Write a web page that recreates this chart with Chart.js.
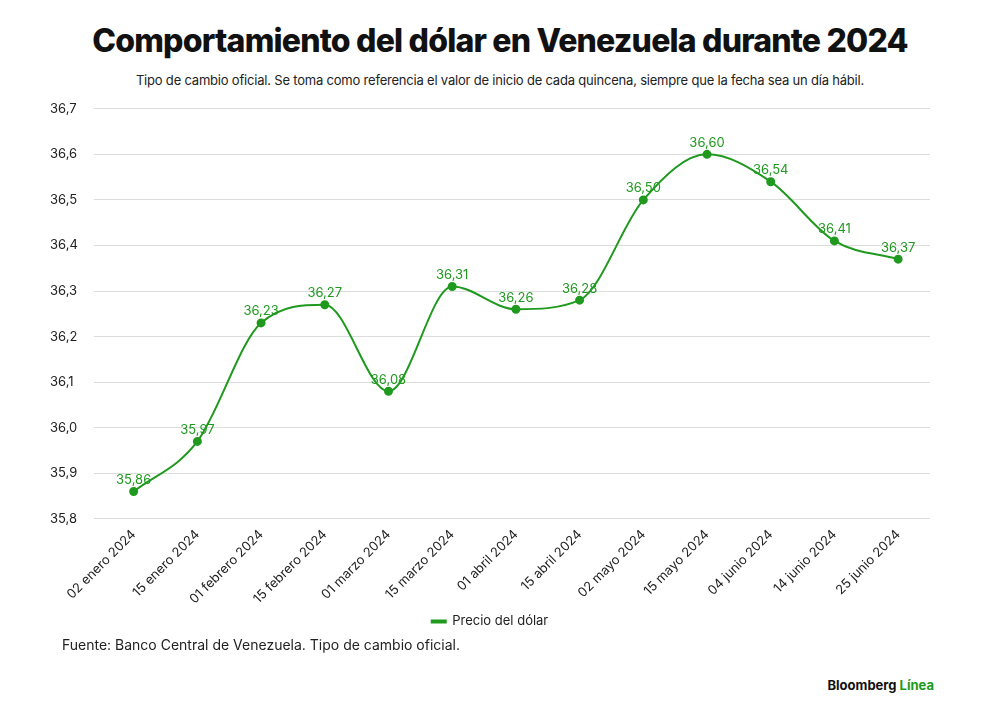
<!DOCTYPE html>
<html><head><meta charset="utf-8">
<script src="https://cdn.jsdelivr.net/npm/chart.js@4"></script>
<style>
body{margin:0;background:#fff;font-family:Inter,"Noto Sans",sans-serif;}
#wrap{position:relative;width:1000px;height:712px;}
h1{position:absolute;top:21px;left:0;width:1000px;text-align:center;margin:0;font-size:32px;font-weight:800;letter-spacing:-0.8px;color:#111;}
.sub{position:absolute;top:72px;left:0;width:1000px;text-align:center;font-size:13px;letter-spacing:-0.2px;color:#222;}
.src{position:absolute;top:636px;left:62px;font-size:14px;color:#222;}
.brand{position:absolute;top:677px;right:66px;font-size:13px;font-weight:700;color:#111;}
.brand span{color:#1a9a1a;}
#c{position:absolute;top:93px;left:50px;}
</style></head><body>
<div id="wrap">
<h1>Comportamiento del dólar en Venezuela durante 2024</h1>
<div class="sub">Tipo de cambio oficial. Se toma como referencia el valor de inicio de cada quincena, siempre que la fecha sea un día hábil.</div>
<canvas id="c" width="900" height="545" style="width:900px;height:545px"></canvas>
<div class="src">Fuente: Banco Central de Venezuela. Tipo de cambio oficial.</div>
<div class="brand">Bloomberg <span>Línea</span></div>
</div>
<script>
const categories=["02 enero 2024","15 enero 2024","01 febrero 2024","15 febrero 2024","01 marzo 2024","15 marzo 2024","01 abril 2024","15 abril 2024","02 mayo 2024","15 mayo 2024","04 junio 2024","14 junio 2024","25 junio 2024"];
const values=[35.86,35.97,36.23,36.27,36.08,36.31,36.26,36.28,36.50,36.60,36.54,36.41,36.37];
const green="#1f9a1f";
const labelPlugin={id:"lbl",afterDatasetsDraw(ch){const ctx=ch.ctx;const m=ch.getDatasetMeta(0);ctx.save();ctx.fillStyle=green;ctx.font="13px Inter, 'Noto Sans', sans-serif";ctx.textAlign="center";ctx.textBaseline="bottom";
m.data.forEach((p,i)=>{ctx.fillText(values[i].toFixed(2).replace(".",","),p.x,p.y-5);});ctx.restore();}};
new Chart(document.getElementById("c"),{type:"line",
data:{labels:categories,datasets:[{label:"Precio del dólar",data:values,borderColor:green,backgroundColor:green,borderWidth:2,pointRadius:3.5,pointHoverRadius:3.5,cubicInterpolationMode:"monotone"}]},
options:{responsive:false,animation:false,layout:{padding:{left:0,right:20,top:0,bottom:0}},
plugins:{legend:{position:"bottom",labels:{boxWidth:14,boxHeight:2,color:"#222",font:{size:13,family:"Inter"},padding:8}},tooltip:{enabled:false}},
scales:{x:{offset:true,grid:{display:false},border:{display:false},ticks:{color:"#222",font:{size:13,family:"Inter"},maxRotation:45,minRotation:45,autoSkip:false,padding:0}},
y:{min:35.8,max:36.7,grid:{color:"#ddd"},border:{display:false},ticks:{stepSize:0.1,color:"#222",font:{size:13,family:"Inter"},crossAlign:"far",padding:8,callback:v=>v.toFixed(1).replace(".",",")}}}},
plugins:[labelPlugin]});
</script>
</body></html>
